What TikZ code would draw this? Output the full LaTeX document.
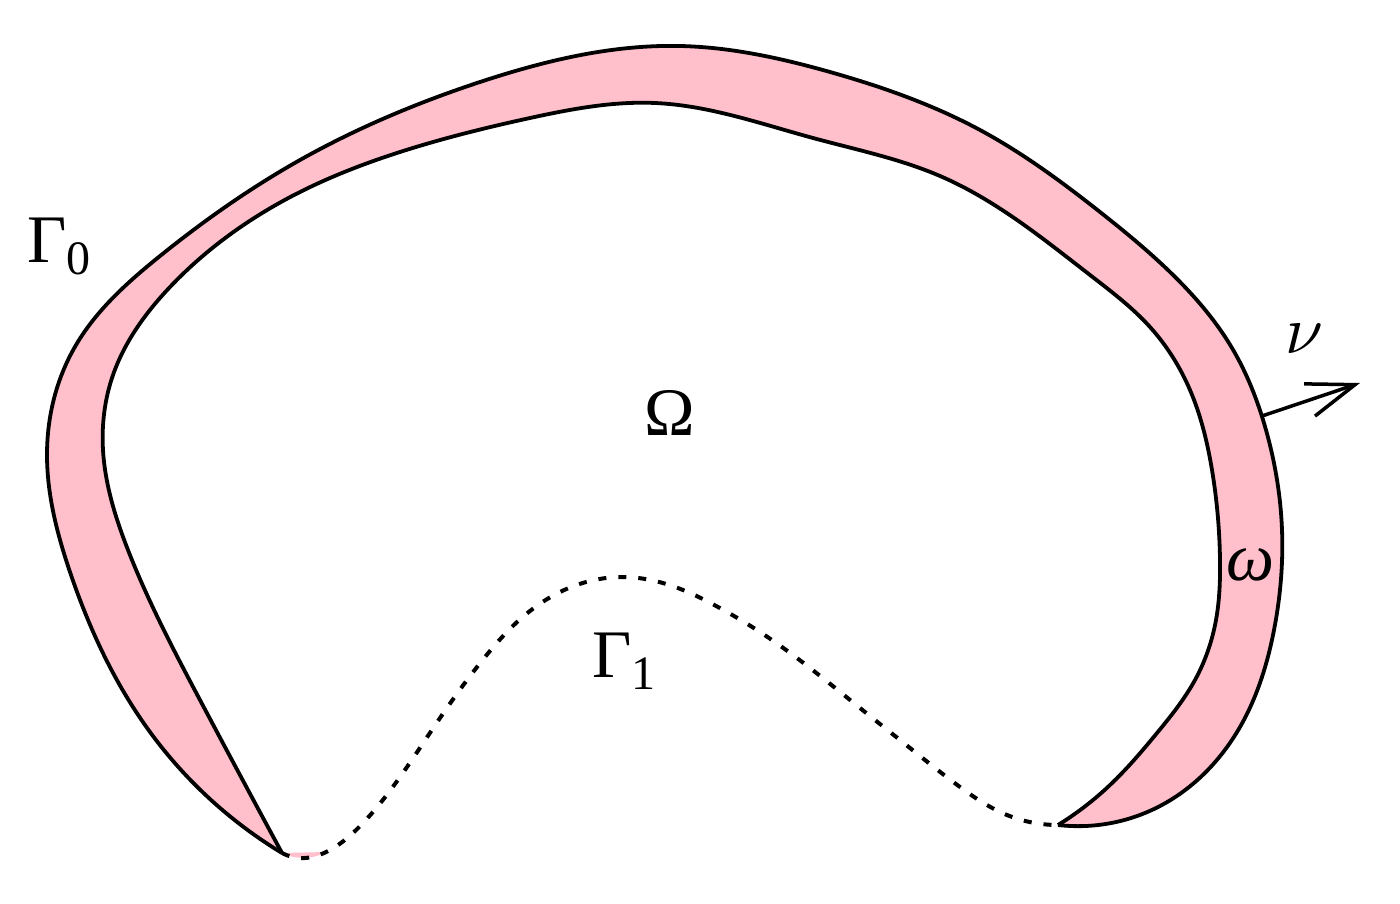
\documentclass[tikz,border=0pt]{standalone}
\usepackage{fontspec}
\usepackage{graphicx}
\setmainfont{Liberation Serif}
\usetikzlibrary{arrows.meta,hobby}
\definecolor{bandpink}{RGB}{255,192,203}
\begin{document}
\begin{tikzpicture}[x=1pt,y=-1pt,
  outline/.style={line width=3.8pt, line cap=butt},
  gammaone/.style={line width=4pt, dash pattern=on 8pt off 12pt},
  normalarrow/.style={line width=3.5pt, -{Straight Barb[length=48pt,width=34pt,line width=3.5pt]}},
  lbl/.style={inner sep=0pt, font=\fontsize{68}{80}\selectfont}]
\useasboundingbox (0,0) rectangle (1400,904);

\coordinate (tipL) at (282,853);
\coordinate (tipR) at (1058,825);
\def\outerpts{(150,732) (70,572) (47,455) (76,345) (160,256) (300,160)
 (480,82) (680,46) (830,72) (980,130) (1100,212) (1170,272) (1232,348)
 (1266,430) (1282,530) (1274,630) (1240,727) (1160,806)}
\def\innerpts{(1110,785) (1157,733) (1195,680) (1216,620) (1220,560)
 (1212,470) (1190,390) (1150,327) (1090,275) (940,176) (813,138) (655,103)
 (530,118) (400,152) (300,192) (170,287) (113,375) (103,450) (128,550) (200,700)}

% band (omega): outer region in pink, inner region back to white
\fill[bandpink] (tipL) to[curve through={\outerpts}] (tipR) -- cycle;
\path[fill=white, draw=white, line width=2pt] (tipR) to[curve through={\innerpts}] (tipL) -- cycle;
\fill[bandpink] (tipL) .. controls (295,860) and (315,859) .. (326,852) -- cycle;

% outer boundary Gamma_0 and inner boundary
\draw[outline] (tipL) to[curve through={\outerpts}] (tipR);
\draw[outline] (tipR) to[curve through={\innerpts}] (tipL);

% Gamma_1 dotted
\draw[gammaone] (tipL) to[curve through={(305,858) (330,850) (363,823) (400,777) (440,718) (485,657)
 (525,615) (560,592) (622,577) (683,590) (718,607) (760,632)
 (810,668) (860,708) (910,748) (960,787) (1007,815)}] (tipR);

% normal vector
\coordinate (nuStart) at (1262,416);
\coordinate (nuEnd) at (1360,383);
\draw[normalarrow] (nuStart) -- (nuEnd);

% labels
\node[lbl, anchor=base west] (g0) at (27,262) {Γ\raisebox{-12pt}{\fontsize{48}{50}\selectfont 0}};
\node[lbl, anchor=base] (om) at (670,435) {Ω};
\node[lbl, anchor=base west] (g1) at (592,677) {Γ\raisebox{-12pt}{\fontsize{48}{50}\selectfont 1}};
\node[inner sep=0pt, anchor=base west] (nu) at (1285,353) {\scalebox{6.8}{$\nu$}};
\node[lbl, anchor=base] (w) at (1250,580) {\textit{ω}};
\end{tikzpicture}
\end{document}
